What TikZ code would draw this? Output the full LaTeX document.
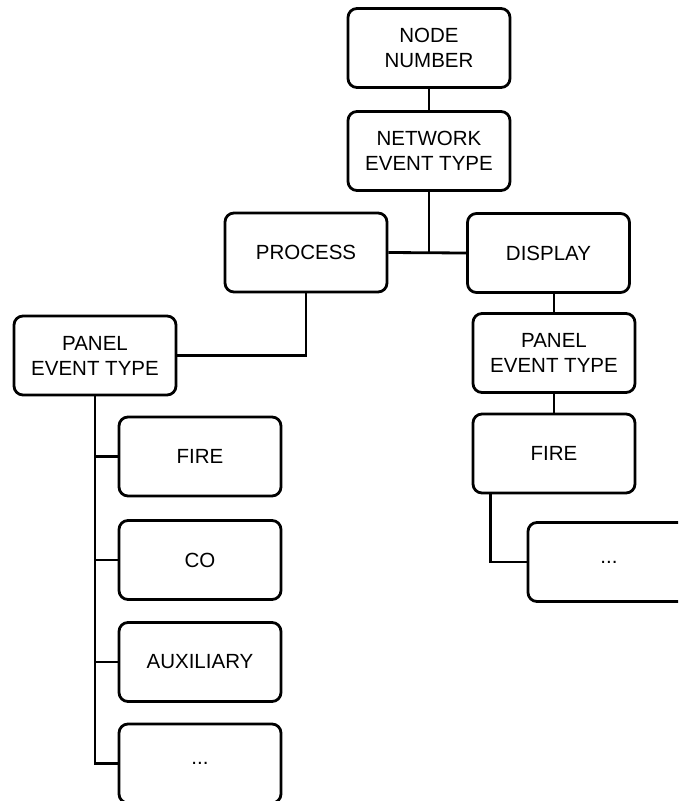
\documentclass[tikz,border=0pt]{standalone}
\usepackage{fontspec}
\setmainfont{Liberation Sans}
\begin{document}
\begin{tikzpicture}[x=1pt, y=-1pt,
    box/.style={draw, line width=2.8pt, rounded corners=9pt,
      minimum width=162pt, minimum height=79pt, align=center,
      font=\fontsize{20.5}{25}\selectfont},
    link/.style={line width=2.8pt}]
  % Cadre de la page
  \clip (0,0) rectangle (678,801);
  % Niveaux du haut
  \node[box] (number)  at (429,48)    {NODE\\NUMBER};
  \node[box] (network) at (429,151)   {NETWORK\\EVENT TYPE};
  \node[box] (process) at (306,252.5) {PROCESS};
  \node[box] (display) at (548.5,253) {DISPLAY};
  % Branche de gauche
  \node[box] (lpanel) at (95,355.5)  {PANEL\\EVENT TYPE};
  \node[box] (lfire)  at (200,456.5) {FIRE};
  \node[box] (lco)    at (200,560)   {CO};
  \node[box] (laux)   at (200,662)   {AUXILIARY};
  \node[box] (ldots)  at (200,763.5) {...};
  % Branche de droite
  \node[box] (rpanel) at (554,353)   {PANEL\\EVENT TYPE};
  \node[box] (rfire)  at (554,453.5) {FIRE};
  \node[box] (rdots)  at (609,562)   {...};
  % Liaisons du haut
  \coordinate (fork) at (network.south |- process.east);
  \draw[link] (number) -- (network);
  \draw[link] (network) -- (fork);
  \draw[link] (process.east) -- (display.west);
  \draw[link] (process.south) |- (lpanel.east);
  \draw[link] (rpanel.north |- display.south) -- (rpanel.north);
  % Liaisons de gauche
  \draw[link] (lpanel.south) |- (ldots.west);
  \foreach \n in {lfire,lco,laux}
    \draw[link] (lpanel.south |- \n.west) -- (\n.west);
  % Liaisons de droite
  \draw[link] (rpanel) -- (rfire);
  \coordinate (rtrunk) at ([xshift=19pt]rfire.south west);
  \draw[link] (rtrunk) |- (rdots.west);
\end{tikzpicture}
\end{document}
